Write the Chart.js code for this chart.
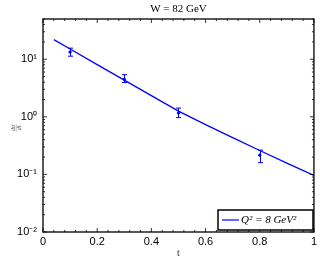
<!DOCTYPE html>
<html>
<head>
<meta charset="utf-8">
<script src="https://cdn.jsdelivr.net/npm/chart.js@4/dist/chart.umd.min.js"></script>
<style>
  body { margin: 0; background: #fff; }
  #wrap { width: 320px; height: 259px; }
</style>
</head>
<body>
<div id="wrap"><canvas id="chart" width="320" height="259"></canvas></div>
<script>
// model curve
const tLine = [0.04, 0.1, 0.2, 0.3, 0.4, 0.5, 0.6, 0.7, 0.8, 0.9, 1.0];
const sigmaLine = [21.9, 15.1, 8.07, 4.34, 2.33, 1.26, 0.733, 0.435, 0.26, 0.157, 0.096];

// measured points with error bars
const tData = [0.1, 0.3, 0.5, 0.8];
const sigmaData = [13.3, 4.5, 1.16, 0.216];
const errLow = [11.3, 3.95, 0.97, 0.16];
const errHigh = [15.6, 5.4, 1.42, 0.264];

const xTicks = [0, 0.2, 0.4, 0.6, 0.8, 1];
const yDecades = [-2, -1, 0, 1];
const supMap = { '-': '\u207B', '0': '\u2070', '1': '\u00B9', '2': '\u00B2' };

const blue = '#0000ff';
const sans = '"Liberation Sans", Arial, sans-serif';
const serif = '"Liberation Serif", "Times New Roman", serif';

const decoPlugin = {
  id: 'deco',
  afterDatasetsDraw(chart) {
    const ctx = chart.ctx;
    const xs = chart.scales.x, ys = chart.scales.y;
    const a = chart.chartArea;
    ctx.save();

    // error bars
    ctx.strokeStyle = blue;
    ctx.lineWidth = 1;
    tData.forEach((t, i) => {
      const px = Math.round(xs.getPixelForValue(t)) + 0.5;
      const yl = ys.getPixelForValue(errLow[i]);
      const yh = ys.getPixelForValue(errHigh[i]);
      ctx.beginPath();
      ctx.moveTo(px, yl); ctx.lineTo(px, yh);
      ctx.moveTo(px - 2.5, yl); ctx.lineTo(px + 2.5, yl);
      ctx.moveTo(px - 2.5, yh); ctx.lineTo(px + 2.5, yh);
      ctx.stroke();
    });

    // axes box
    ctx.strokeStyle = '#000';
    ctx.lineWidth = 1.3;
    ctx.strokeRect(a.left, a.top, a.right - a.left, a.bottom - a.top);

    // ticks inside the box
    ctx.lineWidth = 0.8;
    ctx.beginPath();
    for (let v = 0; v <= 1.0001; v += 0.04) {
      const px = xs.getPixelForValue(v);
      const major = Math.abs(v / 0.2 - Math.round(v / 0.2)) < 1e-6;
      const len = major ? 4 : 2;
      ctx.moveTo(px, a.bottom); ctx.lineTo(px, a.bottom - len);
      ctx.moveTo(px, a.top); ctx.lineTo(px, a.top + len);
    }
    for (let e = -2; e <= 1; e++) {
      for (let m = 1; m <= 9; m++) {
        const v = m * Math.pow(10, e);
        if (v > ys.max) break;
        const py = ys.getPixelForValue(v);
        const len = m === 1 ? 4 : 2;
        ctx.moveTo(a.left, py); ctx.lineTo(a.left + len, py);
        ctx.moveTo(a.right, py); ctx.lineTo(a.right - len, py);
      }
    }
    ctx.stroke();

    // title
    ctx.fillStyle = '#000';
    ctx.font = '11px ' + serif;
    ctx.textAlign = 'center';
    ctx.textBaseline = 'middle';
    ctx.fillText('W = 82 GeV', (a.left + a.right) / 2, 9);

    // x axis title
    ctx.font = '10px ' + serif;
    ctx.fillStyle = '#333';
    ctx.fillText('t', (a.left + a.right) / 2, 253);

    // y axis title (fraction, rotated)
    ctx.save();
    ctx.translate(16, 128);
    ctx.rotate(-Math.PI / 2);
    ctx.font = 'italic 6px ' + serif;
    ctx.fillStyle = '#444';
    ctx.fillText('d\u03C3', 0, -2.5);
    ctx.fillText('dt', 0, 3);
    ctx.strokeStyle = '#666';
    ctx.lineWidth = 0.5;
    ctx.beginPath(); ctx.moveTo(-3.5, 0.2); ctx.lineTo(3.5, 0.2); ctx.stroke();
    ctx.restore();

    // legend
    const lx = 218, ly = 210, lw = 95, lh = 20;
    ctx.fillStyle = '#fff';
    ctx.fillRect(lx, ly, lw, lh);
    ctx.strokeStyle = '#000';
    ctx.lineWidth = 1.5;
    ctx.strokeRect(lx, ly, lw, lh);
    ctx.strokeStyle = blue;
    ctx.lineWidth = 1.2;
    ctx.beginPath(); ctx.moveTo(lx + 4, ly + 10); ctx.lineTo(lx + 21, ly + 10); ctx.stroke();
    ctx.fillStyle = '#000';
    ctx.textAlign = 'left';
    ctx.font = 'italic 11px ' + serif;
    ctx.fillText('Q\u00B2 = 8 GeV\u00B2', lx + 23, ly + 10.5);

    ctx.restore();
  }
};

new Chart(document.getElementById('chart').getContext('2d'), {
  type: 'line',
  data: {
    datasets: [{
      data: tLine.map((t, i) => ({ x: t, y: sigmaLine[i] })),
      borderColor: blue,
      borderWidth: 1.3,
      pointRadius: 0,
      tension: 0,
      fill: false
    }, {
      type: 'scatter',
      data: tData.map((t, i) => ({ x: t, y: sigmaData[i] })),
      backgroundColor: blue,
      borderColor: blue,
      pointRadius: 1.2,
      showLine: false
    }]
  },
  options: {
    responsive: false,
    animation: false,
    devicePixelRatio: 1,
    layout: { padding: { top: 19, right: 6, left: 0, bottom: 0 } },
    plugins: { legend: { display: false }, tooltip: { enabled: false } },
    scales: {
      x: {
        type: 'linear', min: 0, max: 1,
        grid: { display: false, drawTicks: false },
        border: { display: false },
        afterBuildTicks: s => { s.ticks = xTicks.map(v => ({ value: v })); },
        ticks: {
          padding: 3, color: '#000', font: { family: sans, size: 11 },
          callback: v => String(+v.toFixed(1))
        },
        afterFit: s => { s.height = 27; }
      },
      y: {
        type: 'logarithmic', min: 0.01, max: 50,
        grid: { display: false, drawTicks: false },
        border: { display: false },
        afterBuildTicks: s => { s.ticks = yDecades.map(e => ({ value: Math.pow(10, e) })); },
        ticks: {
          autoSkip: false, padding: 6, color: '#000', font: { family: sans, size: 11 },
          callback: v => {
            const e = Math.round(Math.log10(v));
            return '10' + String(e).split('').map(c => supMap[c]).join('');
          }
        },
        afterFit: s => { s.width = 43; }
      }
    }
  },
  plugins: [decoPlugin]
});
</script>
</body>
</html>
